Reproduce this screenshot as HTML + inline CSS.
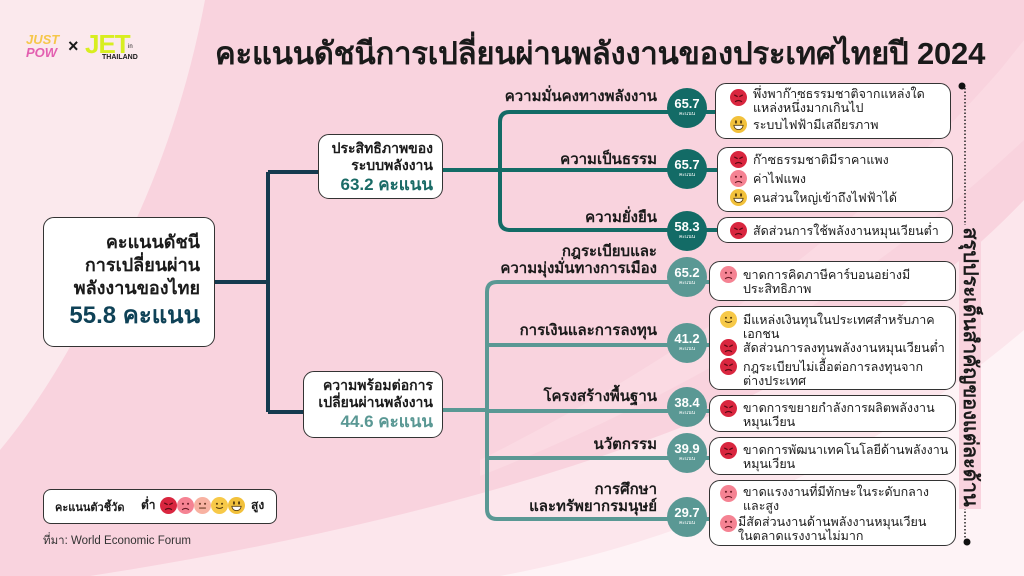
<!DOCTYPE html>
<html><head><meta charset="utf-8"><style>
*{margin:0;padding:0;box-sizing:border-box}
body{width:1024px;height:576px;overflow:hidden;position:relative;background:#f9d3de;font-family:"Liberation Sans","Noto Sans CJK SC",sans-serif;color:#1a1a1a}
.a{position:absolute;white-space:nowrap}
.box{position:absolute;background:#fff;border:1.5px solid #333;border-radius:11px}
.lbl{position:absolute;font-weight:bold;font-size:15px;text-align:right;right:367px;line-height:17px;white-space:nowrap}
.c{position:absolute;width:40px;height:40px;border-radius:50%;color:#fff;text-align:center;font-weight:bold;font-size:13px;line-height:15px;padding-top:8px}
.c small{display:block;font-size:5px;line-height:6px;font-weight:normal}
.up{background:#136b66}.lo{background:#5a9894}
.it{position:absolute;left:733px;font-size:12.5px;line-height:14px;white-space:nowrap}
.em{position:absolute;width:17px;height:17px}
</style></head><body>
<svg width="1024" height="576" style="position:absolute;left:0;top:0">
<defs>
<symbol id="ang" viewBox="0 0 20 20"><circle cx="10" cy="10" r="10" fill="#d9263f"/><path d="M5 7l4 2M15 7l-4 2M6 15q4-3 8 0" stroke="#5a0a14" stroke-width="1.5" fill="none"/></symbol>
<symbol id="sad" viewBox="0 0 20 20"><circle cx="10" cy="10" r="10" fill="#f58393"/><circle cx="7" cy="8" r="1.2" fill="#6a1a25"/><circle cx="13" cy="8" r="1.2" fill="#6a1a25"/><path d="M6 15q4-3 8 0" stroke="#6a1a25" stroke-width="1.3" fill="none"/></symbol>
<symbol id="neu" viewBox="0 0 20 20"><circle cx="10" cy="10" r="10" fill="#f8b2a2"/><circle cx="7" cy="8" r="1.2" fill="#6a3a25"/><circle cx="13" cy="8" r="1.2" fill="#6a3a25"/><path d="M6 13h8" stroke="#6a3a25" stroke-width="1.3"/></symbol>
<symbol id="smi" viewBox="0 0 20 20"><circle cx="10" cy="10" r="10" fill="#f7c948"/><circle cx="7" cy="8" r="1.2" fill="#5a4010"/><circle cx="13" cy="8" r="1.2" fill="#5a4010"/><path d="M6 12q4 3 8 0" stroke="#5a4010" stroke-width="1.3" fill="none"/></symbol>
<symbol id="gri" viewBox="0 0 20 20"><circle cx="10" cy="10" r="10" fill="#f2c13b"/><ellipse cx="7" cy="7" rx="1.2" ry="2" fill="#5a4010"/><ellipse cx="13" cy="7" rx="1.2" ry="2" fill="#5a4010"/><path d="M4.5 11h11q-1 5-5.5 5t-5.5-5z" fill="#fff" stroke="#5a4010" stroke-width="1"/></symbol>
</defs>
<path d="M0 0H205Q175 160 95 300Q50 390 0 450Z" fill="#fbe9ed"/>
<path d="M1024 40L1024 200Q900 330 700 420Q450 520 90 576H1024Z" fill="#fce6ec"/>
<path d="M1024 330V576H500Q800 520 1024 330Z" fill="#fef3f6"/>
<path d="M1024 40L1000 70Q800 300 480 460L480 476Q800 350 1024 140Z" fill="#fbdfe6" opacity=".6"/>
<g fill="none" stroke="#163a4f" stroke-width="4">
<path d="M215 282H268M268 172V412M268 172H318M268 412H303"/>
</g>
<g fill="none" stroke="#136b66" stroke-width="4">
<path d="M443 170H718M500 122Q500 112 510 112H718M500 122V220Q500 230 510 230H718"/>
</g>
<g fill="none" stroke="#5a9894" stroke-width="4">
<path d="M443 410H487M487 292Q487 282 497 282H718M487 292V509Q487 519 497 519H718M487 345H718M487 411H718M487 458H718"/>
</g>
<path d="M965 88V542" stroke="#222" stroke-width="1.5" stroke-dasharray="1.5 2"/>
<circle cx="962" cy="86" r="3.5" fill="#111"/><circle cx="967" cy="542" r="3.5" fill="#111"/>
<path d="M146 512H262" stroke="#333" stroke-width="1" stroke-dasharray="1 1.5"/>
<path d="M149 509l-4 3 4 3M259 509l4 3-4 3" stroke="#333" fill="none"/>
</svg>

<div class="a" style="left:26px;top:33px;font-weight:900;font-style:italic;font-size:13px;line-height:13px;color:#f5c74a">JUST<br><span style="color:#e35fb0">POW</span></div>
<div class="a" style="left:68px;top:36px;font-weight:bold;font-size:18px">×</div>
<div class="a" style="left:85px;top:29px;font-weight:900;font-size:26px;color:#d8ee20;letter-spacing:-1px">JET</div>
<div class="a" style="left:102px;top:54px;font-weight:bold;font-size:7px">THAILAND</div>
<div class="a" style="left:128px;top:44px;font-size:6px">in</div>

<div class="a" style="left:215px;top:28px;font-size:31px;font-weight:bold;letter-spacing:-0.2px">คะแนนดัชนีการเปลี่ยนผ่านพลังงานของประเทศไทยปี 2024</div>

<div class="box" style="left:43px;top:217px;width:172px;height:130px;text-align:right;padding:13px 14px 0 0;font-weight:bold;font-size:18px;line-height:23px">คะแนนดัชนี<br>การเปลี่ยนผ่าน<br>พลังงานของไทย<br><span style="font-size:24px;line-height:32px;color:#0f4257">55.8 คะแนน</span></div>

<div class="box" style="left:318px;top:134px;width:125px;height:65px;text-align:right;padding:5px 9px 0 0;font-weight:bold;font-size:14px;line-height:17px">ประสิทธิภาพของ<br>ระบบพลังงาน<br><span style="font-size:17px;line-height:22px;color:#1a6b66">63.2 คะแนน</span></div>
<div class="box" style="left:303px;top:371px;width:140px;height:67px;text-align:right;padding:5px 9px 0 0;font-weight:bold;font-size:14px;line-height:17px">ความพร้อมต่อการ<br>เปลี่ยนผ่านพลังงาน<br><span style="font-size:17px;line-height:22px;color:#5a9894">44.6 คะแนน</span></div>

<div class="lbl" style="top:88px">ความมั่นคงทางพลังงาน</div>
<div class="lbl" style="top:151px">ความเป็นธรรม</div>
<div class="lbl" style="top:209px">ความยั่งยืน</div>
<div class="lbl" style="top:243px">กฎระเบียบและ<br>ความมุ่งมั่นทางการเมือง</div>
<div class="lbl" style="top:322px">การเงินและการลงทุน</div>
<div class="lbl" style="top:388px">โครงสร้างพื้นฐาน</div>
<div class="lbl" style="top:436px">นวัตกรรม</div>
<div class="lbl" style="top:481px">การศึกษา<br>และทรัพยากรมนุษย์</div>

<div class="c up" style="left:667px;top:88px">65.7<small>คะแนน</small></div>
<div class="c up" style="left:667px;top:149px">65.7<small>คะแนน</small></div>
<div class="c up" style="left:667px;top:211px">58.3<small>คะแนน</small></div>
<div class="c lo" style="left:667px;top:257px">65.2<small>คะแนน</small></div>
<div class="c lo" style="left:667px;top:323px">41.2<small>คะแนน</small></div>
<div class="c lo" style="left:667px;top:387px">38.4<small>คะแนน</small></div>
<div class="c lo" style="left:667px;top:433px">39.9<small>คะแนน</small></div>
<div class="c lo" style="left:667px;top:497px">29.7<small>คะแนน</small></div>

<div class="box" style="left:715px;top:83px;width:236px;height:56px"></div>
<div class="box" style="left:717px;top:147px;width:236px;height:65px"></div>
<div class="box" style="left:717px;top:217px;width:236px;height:26px"></div>
<div class="box" style="left:709px;top:261px;width:247px;height:40px"></div>
<div class="box" style="left:709px;top:306px;width:247px;height:84px"></div>
<div class="box" style="left:709px;top:395px;width:247px;height:37px"></div>
<div class="box" style="left:709px;top:437px;width:247px;height:38px"></div>
<div class="box" style="left:709px;top:480px;width:247px;height:66px"></div>

<svg class="em" style="left:730px;top:89px"><use href="#ang"/></svg><div class="it" style="left:753px;top:87px">พึ่งพาก๊าซธรรมชาติจากแหล่งใด<br>แหล่งหนึ่งมากเกินไป</div>
<svg class="em" style="left:730px;top:116px"><use href="#gri"/></svg><div class="it" style="left:753px;top:118px">ระบบไฟฟ้ามีเสถียรภาพ</div>
<svg class="em" style="left:730px;top:151px"><use href="#ang"/></svg><div class="it" style="left:753px;top:153px">ก๊าซธรรมชาติมีราคาแพง</div>
<svg class="em" style="left:730px;top:170px"><use href="#sad"/></svg><div class="it" style="left:753px;top:172px">ค่าไฟแพง</div>
<svg class="em" style="left:730px;top:189px"><use href="#gri"/></svg><div class="it" style="left:753px;top:191px">คนส่วนใหญ่เข้าถึงไฟฟ้าได้</div>
<svg class="em" style="left:730px;top:222px"><use href="#ang"/></svg><div class="it" style="left:753px;top:224px">สัดส่วนการใช้พลังงานหมุนเวียนต่ำ</div>
<svg class="em" style="left:720px;top:266px"><use href="#sad"/></svg><div class="it" style="left:743px;top:268px">ขาดการคิดภาษีคาร์บอนอย่างมี<br>ประสิทธิภาพ</div>
<svg class="em" style="left:720px;top:311px"><use href="#smi"/></svg><div class="it" style="left:743px;top:313px">มีแหล่งเงินทุนในประเทศสำหรับภาค<br>เอกชน</div>
<svg class="em" style="left:720px;top:339px"><use href="#ang"/></svg><div class="it" style="left:743px;top:341px">สัดส่วนการลงทุนพลังงานหมุนเวียนต่ำ</div>
<svg class="em" style="left:720px;top:358px"><use href="#ang"/></svg><div class="it" style="left:743px;top:360px">กฎระเบียบไม่เอื้อต่อการลงทุนจาก<br>ต่างประเทศ</div>
<svg class="em" style="left:720px;top:400px"><use href="#ang"/></svg><div class="it" style="left:743px;top:401px">ขาดการขยายกำลังการผลิตพลังงาน<br>หมุนเวียน</div>
<svg class="em" style="left:720px;top:442px"><use href="#ang"/></svg><div class="it" style="left:743px;top:443px">ขาดการพัฒนาเทคโนโลยีด้านพลังงาน<br>หมุนเวียน</div>
<svg class="em" style="left:720px;top:485px"><use href="#sad"/></svg><div class="it" style="left:743px;top:485px">ขาดแรงงานที่มีทักษะในระดับกลาง<br>และสูง</div>
<svg class="em" style="left:720px;top:515px"><use href="#sad"/></svg><div class="it" style="left:738px;top:515px">มีสัดส่วนงานด้านพลังงานหมุนเวียน<br>ในตลาดแรงงานไม่มาก</div>

<div class="a" style="left:805px;top:356px;width:330px;text-align:center;transform:rotate(90deg);font-weight:bold;font-size:20px;line-height:22px"><span style="background:#f9d3de;padding:0 2px">สรุปประเด็นสำคัญของแต่ละด้าน</span></div>

<div class="box" style="left:43px;top:489px;width:234px;height:35px;border-radius:8px"></div>
<div class="a" style="left:55px;top:498px;font-weight:bold;font-size:11px">คะแนนตัวชี้วัด</div>
<div class="a" style="left:141px;top:496px;font-weight:bold;font-size:12px">ต่ำ</div>
<svg class="em" style="left:160px;top:497px"><use href="#ang"/></svg>
<svg class="em" style="left:177px;top:497px"><use href="#sad"/></svg>
<svg class="em" style="left:194px;top:497px"><use href="#neu"/></svg>
<svg class="em" style="left:211px;top:497px"><use href="#smi"/></svg>
<svg class="em" style="left:228px;top:497px"><use href="#gri"/></svg>
<div class="a" style="left:251px;top:496px;font-weight:bold;font-size:12px">สูง</div>
<div class="a" style="left:43px;top:532px;font-size:11.5px;color:#333">ที่มา: World Economic Forum</div>
</body></html>
